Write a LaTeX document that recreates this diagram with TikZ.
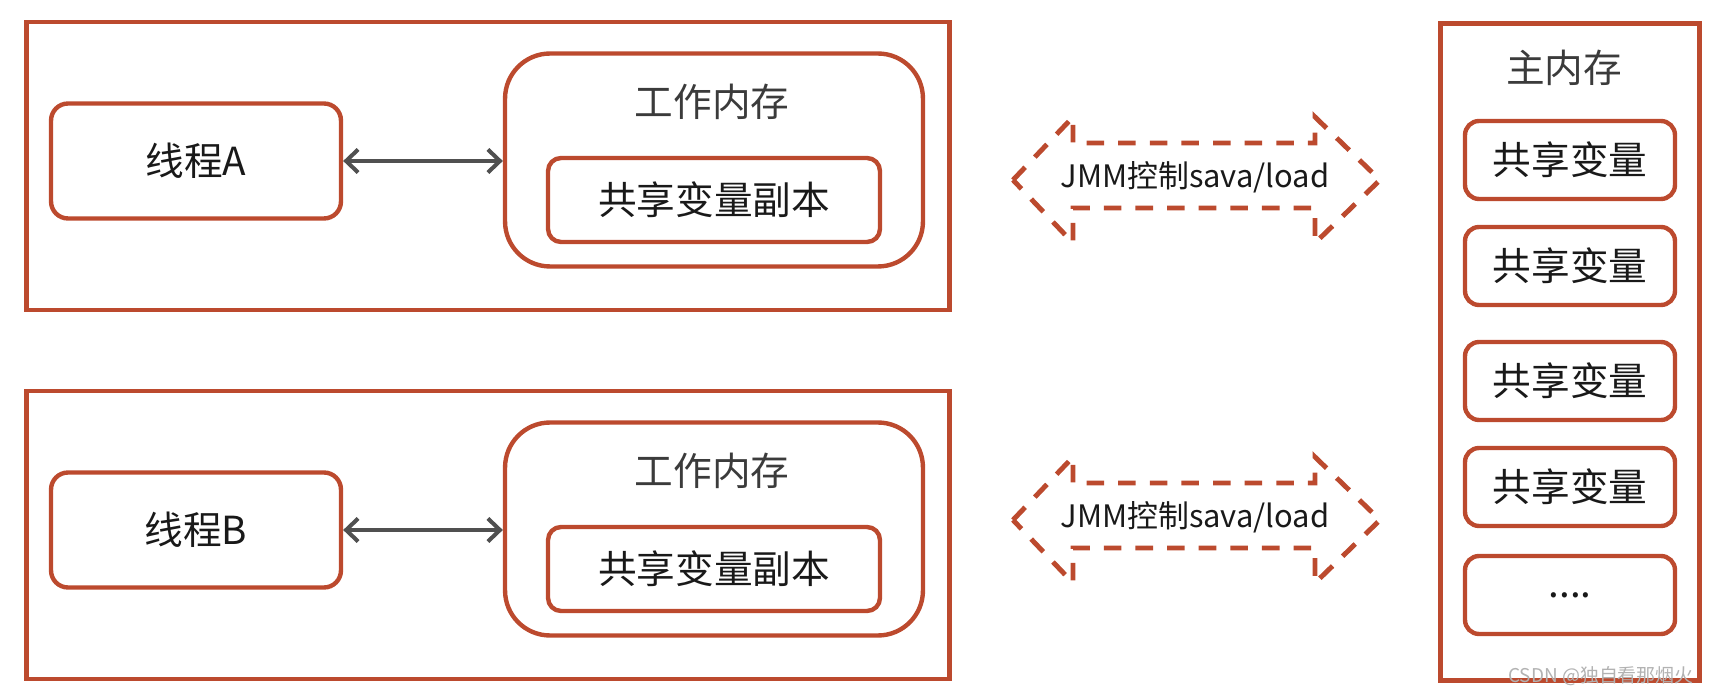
\documentclass[tikz,border=0pt]{standalone}
\usepackage{fontspec}
\setmainfont{Noto Sans CJK SC}
\usepackage{tikz}
\usetikzlibrary{arrows.meta}

\definecolor{boxred}{RGB}{188,74,46}
\definecolor{txtgray}{RGB}{25,25,25}
\definecolor{linkgray}{RGB}{80,80,80}

\begin{document}
\begin{tikzpicture}[x=0.02cm, y=-0.02cm, >={Straight Barb[length=0.24cm,width=0.46cm]},
    frame/.style={draw=boxred, line width=2.5pt, inner sep=0pt},
    roundbox/.style={frame, rounded corners=0.34cm, font=\fontsize{22}{26}\selectfont, text=txtgray},
    title/.style={font=\fontsize{22}{26}\selectfont, text=txtgray!85, inner sep=0pt},
    link/.style={<->, draw=linkgray, line width=2.3pt},
    dasharrow/.style={draw=boxred, line width=2.8pt, dash pattern=on 10pt off 8pt, line join=miter},
    jmmtext/.style={font=\fontsize{17.6}{20}\selectfont, text=txtgray, inner sep=0pt}]
    \useasboundingbox (0,0) rectangle (1717,695);

    % Thread A
    \node[frame, minimum width=18.46cm, minimum height=5.76cm] (outerA) at (488,166) {};
    \node[roundbox, minimum width=5.8cm, minimum height=2.3cm] (threadA) at (196,161) {线程A};
    \node[roundbox, rounded corners=0.9cm, minimum width=8.36cm, minimum height=4.26cm] (workA) at (714,160) {};
    \node[title] (workAtitle) at (712,102) {工作内存};
    \node[roundbox, rounded corners=0.26cm, minimum width=6.64cm, minimum height=1.68cm] (copyA) at (714,200) {共享变量副本};
    \draw[link] (threadA.east) -- (threadA.east -| workA.west);

    % Thread B
    \node[frame, minimum width=18.46cm, minimum height=5.76cm] (outerB) at (488,535) {};
    \node[roundbox, minimum width=5.8cm, minimum height=2.3cm] (threadB) at (196,530) {线程B};
    \node[roundbox, rounded corners=0.9cm, minimum width=8.36cm, minimum height=4.26cm] (workB) at (714,529) {};
    \node[title] (workBtitle) at (712,471) {工作内存};
    \node[roundbox, rounded corners=0.26cm, minimum width=6.64cm, minimum height=1.68cm] (copyB) at (714,569) {共享变量副本};
    \draw[link] (threadB.east) -- (threadB.east -| workB.west);

    % JMM arrows
    \foreach \y/\n in {180/A, 520/B} {
        \draw[dasharrow] (1013,\y) -- (1073,\y-63) -- (1073,\y-37) -- (1315,\y-37) -- (1315,\y-63)
            -- (1380,\y) -- (1315,\y+63) -- (1315,\y+28) -- (1073,\y+28) -- (1073,\y+63) -- cycle;
        \node[jmmtext] (jmm\n) at (1195,\y-3) {JMM控制sava/load};
    }

    % Main memory
    \node[frame, minimum width=5.18cm, minimum height=13.14cm] (mainmem) at (1570,352) {};
    \node[title] (maintitle) at (1564,68) {主内存};
    \foreach \y/\i in {160/1, 266/2, 381/3, 487/4} {
        \node[roundbox, rounded corners=0.28cm, minimum width=4.2cm, minimum height=1.56cm] (var\i) at (1570,\y) {共享变量};
    }
    \node[roundbox, rounded corners=0.28cm, minimum width=4.2cm, minimum height=1.56cm] (var5) at (1570,595) {....};

    \node[font=\fontsize{10.8}{13}\selectfont, text=gray!60] (mark) at (1601,676) {CSDN @独自看那烟火};
\end{tikzpicture}
\end{document}
